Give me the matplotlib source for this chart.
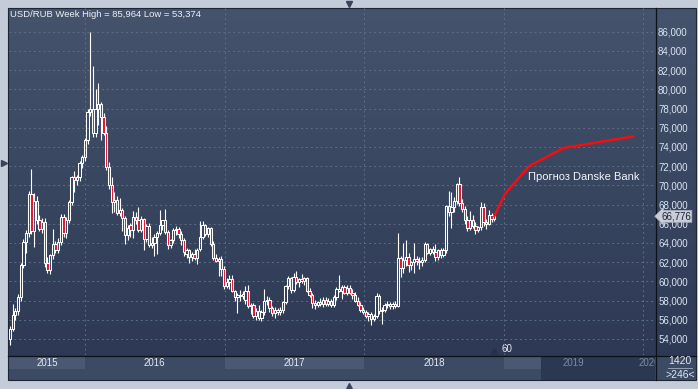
import matplotlib
matplotlib.use("Agg")

import matplotlib.pyplot as plt
import numpy as np
import pandas as pd
from matplotlib import transforms
from matplotlib.colors import LinearSegmentedColormap
from matplotlib.patches import Rectangle
from matplotlib.transforms import Bbox, TransformedBbox


plt.rcParams["font.family"] = ["Liberation Sans", "DejaVu Sans"]

# weekly USD/RUB candles, first week starts 2015-06-19
START_DATE = "2015-06-19"

OPENS = [
    54.0, 55.0, 56.5, 56.9, 58.4, 61.7, 64.1, 65.0, 69.1, 65.2,
    68.4, 66.4, 65.5, 66.2, 61.9, 61.2, 62.7, 63.9, 63.3, 64.1,
    66.7, 65.0, 66.4, 68.3, 70.9, 70.6, 70.9, 72.3, 73.0, 74.7,
    77.6, 78.0, 75.4, 77.9, 78.5, 77.1, 75.4, 71.9, 70.0, 68.3,
    68.5, 67.1, 67.4, 66.6, 64.8, 65.9, 65.4, 66.7, 66.4, 65.4,
    66.5, 64.4, 65.8, 63.8, 64.0, 64.6, 65.0, 65.9, 66.4, 65.1,
    63.8, 64.3, 65.3, 65.5, 64.9, 64.3, 62.8, 63.3, 62.5, 62.9,
    62.4, 63.4, 64.6, 65.9, 64.9, 65.6, 63.9, 62.4, 62.1, 62.3,
    61.3, 59.5, 59.9, 60.2, 59.0, 58.4, 58.6, 58.5, 58.1, 59.0,
    57.4, 57.5, 56.4, 56.9, 56.2, 56.8, 58.0, 58.1, 57.2, 56.7,
    57.0, 56.8, 57.0, 57.9, 59.5, 60.4, 59.1, 60.5, 59.9, 60.2,
    60.0, 60.3, 59.0, 58.6, 57.7, 57.5, 57.8, 57.6, 58.1, 57.6,
    58.0, 57.5, 58.4, 59.2, 59.0, 59.4, 58.8, 59.3, 58.8, 58.6,
    58.0, 57.5, 57.0, 56.8, 56.4, 56.6, 56.1, 56.4, 58.5, 56.9,
    57.0, 57.5, 57.6, 57.4, 57.6, 57.4, 62.4, 61.4, 62.2, 62.5,
    61.7, 62.0, 62.3, 62.1, 62.0, 62.2, 63.9, 63.0, 63.4, 63.1,
    62.5, 63.3, 62.7, 63.3, 67.8, 67.2, 67.7, 68.4, 70.1, 68.2,
    67.5, 66.4, 65.6, 66.4, 65.8, 65.4, 65.7, 67.7, 66.2, 66.0,
    66.9, 66.5,
]
HIGHS = [
    55.3, 57.6, 57.2, 58.7, 61.9, 64.4, 65.3, 69.4, 71.7, 69.2,
    68.9, 66.9, 66.6, 66.6, 62.5, 62.9, 65.5, 64.2, 64.5, 67.0,
    67.0, 66.7, 68.5, 71.0, 71.5, 71.1, 72.5, 73.2, 74.9, 77.9,
    85.964, 82.4, 80.0, 80.7, 78.7, 77.5, 76.2, 72.4, 70.9, 69.3,
    68.9, 68.7, 67.6, 66.8, 65.9, 66.1, 67.3, 67.2, 67.7, 66.8,
    66.6, 66.0, 66.1, 64.6, 64.9, 65.2, 67.4, 66.4, 67.5, 65.3,
    64.4, 65.6, 65.8, 65.7, 65.2, 64.5, 63.5, 63.4, 63.1, 63.4,
    63.5, 66.3, 66.3, 66.0, 65.7, 65.7, 64.2, 62.8, 62.5, 62.6,
    61.6, 60.4, 60.7, 60.7, 59.1, 58.8, 59.1, 59.0, 59.5, 59.6,
    57.7, 57.7, 57.2, 57.5, 57.0, 59.2, 58.5, 58.4, 57.4, 57.3,
    57.2, 57.3, 58.0, 59.6, 60.6, 60.5, 60.9, 61.1, 60.4, 60.8,
    60.5, 60.5, 59.3, 58.8, 58.1, 58.0, 58.3, 58.4, 58.4, 58.3,
    58.2, 58.6, 59.4, 60.7, 59.6, 59.6, 59.6, 59.6, 59.2, 58.9,
    58.4, 57.9, 57.3, 57.0, 56.8, 56.8, 56.6, 58.8, 58.7, 57.3,
    57.7, 58.0, 57.9, 57.8, 58.0, 65.0, 62.6, 64.0, 64.3, 63.0,
    62.1, 64.0, 62.6, 62.5, 62.5, 64.1, 64.0, 63.5, 63.7, 63.9,
    63.4, 63.5, 63.5, 68.0, 69.4, 69.3, 68.8, 70.2, 70.9, 68.6,
    67.8, 66.8, 67.3, 66.9, 66.2, 65.8, 68.3, 68.2, 66.5, 67.4,
    67.1, 66.9,
]
LOWS = [
    53.374, 54.8, 56.0, 56.5, 58.0, 61.4, 63.0, 64.6, 64.9, 63.6,
    66.0, 65.2, 65.0, 61.5, 60.9, 60.8, 62.3, 63.0, 63.0, 63.8,
    64.6, 64.5, 66.1, 68.0, 69.3, 70.0, 70.5, 71.8, 72.5, 74.3,
    77.2, 75.0, 75.0, 76.3, 74.7, 75.2, 71.6, 69.6, 67.1, 67.2,
    66.9, 66.8, 65.2, 63.9, 64.3, 64.6, 64.5, 66.0, 65.1, 65.1,
    63.3, 64.1, 63.6, 63.5, 62.6, 62.9, 64.8, 65.3, 64.9, 63.4,
    63.5, 64.0, 64.8, 64.5, 63.8, 62.6, 62.4, 61.9, 62.1, 62.2,
    61.8, 63.2, 64.4, 64.7, 64.6, 63.7, 62.2, 62.0, 60.6, 60.6,
    59.2, 59.3, 59.2, 58.9, 58.0, 56.7, 58.0, 58.2, 57.6, 57.2,
    56.6, 56.2, 56.0, 56.0, 55.9, 56.5, 57.5, 56.8, 56.4, 56.2,
    56.5, 56.5, 56.7, 57.6, 59.2, 58.8, 58.9, 59.7, 59.4, 59.8,
    59.6, 58.9, 58.4, 57.2, 57.1, 57.3, 57.4, 57.3, 57.4, 57.4,
    57.3, 57.3, 58.1, 58.9, 58.2, 58.7, 58.6, 58.7, 58.2, 57.8,
    57.4, 56.8, 56.6, 56.2, 55.9, 55.5, 55.9, 56.2, 56.6, 55.6,
    56.8, 57.2, 57.1, 57.1, 57.2, 57.3, 60.5, 60.9, 61.6, 61.0,
    61.2, 60.9, 61.7, 61.3, 61.6, 62.0, 62.8, 62.7, 62.8, 62.1,
    62.2, 62.4, 62.5, 63.0, 66.8, 65.6, 67.2, 68.1, 67.8, 67.2,
    66.0, 65.2, 65.3, 65.6, 64.9, 65.1, 65.4, 65.8, 65.5, 65.9,
    66.2, 66.3,
]
CLOSES = [
    55.0, 56.5, 56.9, 58.4, 61.7, 64.1, 65.0, 69.1, 65.2, 68.4,
    66.4, 65.5, 66.2, 61.9, 61.2, 62.7, 63.9, 63.3, 64.1, 66.7,
    65.0, 66.4, 68.3, 70.9, 70.6, 70.9, 72.3, 73.0, 74.7, 77.6,
    78.0, 75.4, 77.9, 78.5, 77.1, 75.4, 71.9, 70.0, 68.3, 68.5,
    67.1, 67.4, 66.6, 64.8, 65.6, 65.4, 66.7, 66.4, 65.4, 66.5,
    64.4, 65.8, 63.8, 64.0, 64.6, 65.0, 65.9, 66.4, 65.1, 63.8,
    64.3, 65.3, 65.5, 64.9, 64.3, 63.1, 63.3, 62.5, 62.9, 62.4,
    63.3, 64.6, 65.9, 64.9, 65.6, 63.9, 62.4, 62.1, 62.3, 61.3,
    59.5, 59.9, 60.2, 59.0, 58.4, 58.6, 58.5, 58.7, 59.0, 57.4,
    57.5, 56.4, 56.9, 56.2, 56.8, 58.0, 58.1, 57.2, 56.7, 57.0,
    56.8, 57.0, 57.9, 59.5, 60.4, 59.1, 60.5, 59.9, 60.2, 60.0,
    60.3, 59.0, 58.6, 57.7, 57.5, 57.8, 57.6, 58.1, 57.6, 58.0,
    57.5, 58.4, 59.2, 59.0, 59.4, 58.8, 59.3, 58.8, 58.6, 58.0,
    57.5, 57.0, 56.8, 56.4, 56.6, 56.1, 56.4, 58.5, 56.9, 57.0,
    57.5, 57.6, 57.4, 57.6, 57.4, 62.4, 61.4, 62.2, 62.5, 61.7,
    62.0, 62.3, 62.1, 62.0, 62.2, 63.9, 63.0, 63.4, 63.1, 62.5,
    63.3, 62.7, 63.3, 67.8, 67.2, 67.7, 68.4, 70.1, 68.2, 67.5,
    66.4, 65.6, 66.4, 65.8, 65.4, 65.7, 67.7, 66.2, 66.0, 66.9,
    66.5, 66.776,
]

# Danske Bank forecast: weeks after the last candle and level
FORECAST_WEEKS = [4, 13, 26, 52]
FORECAST_VALUES = [69.1, 72.0, 73.9, 75.1]
FORECAST_LABEL = "Прогноз Danske Bank"

YEARS = [2015, 2016, 2017, 2018, 2019, 2020]
PRICE_TICKS = list(range(54, 87, 2))

W, H = 698, 389


def ru(value: float) -> str:
    return f"{value:.3f}".replace(".", ",")


def main() -> None:
    opens = np.array(OPENS)
    highs = np.array(HIGHS)
    lows = np.array(LOWS)
    closes = np.array(CLOSES)
    idx = np.arange(len(closes))

    fig = plt.figure(figsize=(W / 100, H / 100), dpi=100, facecolor="#c3ccd8")

    # background layer in pixel units (window chrome)
    bg = fig.add_axes([0, 0, 1, 1])
    bg.set_xlim(0, W)
    bg.set_ylim(H, 0)
    bg.axis("off")
    panel_cmap = LinearSegmentedColormap.from_list("panel", ["#45536c", "#2c3853"])
    bg.imshow(np.linspace(0, 1, 256).reshape(-1, 1), extent=[8, 696, 380, 8],
              aspect="auto", cmap=panel_cmap, zorder=0)
    bg.add_patch(Rectangle((8, 355.5), 688, 24.5, fc="#3d4a63", ec="none", zorder=1))
    bg.add_patch(Rectangle((541, 355.5), 114, 24.5, fc="#2c3751", ec="none", zorder=3))
    bg.add_patch(Rectangle((8, 8), 688, 372, fill=False, ec="#1d2535", lw=0.8, zorder=4))
    bg.plot([655.5, 655.5], [8, 380], color="#0c111b", lw=0.9, zorder=4)
    bg.plot([8, 696], [355.5, 355.5], color="#0c111b", lw=0.9, zorder=4)
    bg.plot([349], [3.5], marker="v", ms=5, color="#39435a", zorder=4)
    bg.plot([3.5], [163], marker=">", ms=5, color="#39435a", zorder=4)
    bg.plot([349], [386], marker="^", ms=5, color="#39435a", zorder=4)
    bg.plot([494], [350.5], marker="^", ms=4, color="#26304a", zorder=4)
    bg.text(501, 349.5, "60", fontsize=7, color="#e8edf4", va="center", zorder=4)
    bg.text(680, 361.5, "1420", fontsize=7.5, color="#dfe6f0", ha="center", va="center", zorder=4)
    bg.plot([668, 692], [367.5, 367.5], color="#a0abbd", lw=0.6, zorder=4)
    bg.text(680, 374.5, ">246<", fontsize=7.5, color="#dfe6f0", ha="center", va="center", zorder=4)

    # price chart
    ax = fig.add_axes([9 / W, (H - 355) / H, 646 / W, 347 / H])
    ax.patch.set_visible(False)
    for spine in ax.spines.values():
        spine.set_visible(False)
    ax.set_xlim(-0.374, 241.1)
    ax.set_ylim(52.33, 88.47)

    start = pd.Timestamp(START_DATE)
    bounds = [(pd.Timestamp(f"{y}-01-01") - start).days / 7 for y in YEARS[1:]]
    edges = [ax.get_xlim()[0]] + bounds + [ax.get_xlim()[1]]
    mids = [(a + b) / 2 for a, b in zip(edges[:-1], edges[1:])]

    # alternating year boxes in the date bar
    bar_trans = transforms.blended_transform_factory(ax.transData, bg.transData)
    for k in range(0, len(YEARS), 2):
        bg.add_patch(Rectangle((edges[k], 356), edges[k + 1] - edges[k], 13,
                               transform=bar_trans, fc="#4a5871", ec="none", zorder=2))

    grid_style = dict(color="#5c6c88", lw=0.7, linestyle=(0, (2, 3)))
    ax.set_yticks(PRICE_TICKS, [ru(v) for v in PRICE_TICKS])
    ax.yaxis.tick_right()
    ax.tick_params(axis="y", length=0, pad=2.2, labelsize=7, labelcolor="#dbe4f2")
    ax.grid(axis="y", **grid_style)

    ax.set_xticks(bounds, [""] * len(bounds))
    ax.set_xticks(mids, [str(y) for y in YEARS], minor=True)
    ax.tick_params(axis="x", which="both", length=0, pad=1.8, labelsize=7)
    ax.grid(axis="x", which="major", **grid_style)
    clip = TransformedBbox(Bbox([[0, 0], [655, H]]), bg.transData)
    for year, tick in zip(YEARS, ax.xaxis.get_minor_ticks()):
        tick.label1.set_color("#e6ebf2" if year <= 2018 else "#7e8aa0")
        tick.label1.set_clip_box(clip)

    # candles
    up = closes >= opens
    body_lo = np.minimum(opens, closes)
    body_hi = np.maximum(opens, closes)
    ax.vlines(idx, body_hi, highs, color="white", lw=0.8, zorder=2)
    ax.vlines(idx, lows, body_lo, color="white", lw=0.8, zorder=2)
    ax.bar(idx, np.maximum(body_hi - body_lo, 0.06), bottom=body_lo, width=0.85,
           color=np.where(up, "none", "#e8102c"), edgecolor="white", linewidth=0.75, zorder=3)

    # forecast
    fx = idx[-1] + np.array([0] + FORECAST_WEEKS)
    fy = [closes[-1]] + FORECAST_VALUES
    ax.plot(fx, fy, color="#ff0a0a", lw=1.7, solid_capstyle="round", zorder=4)
    ax.text(idx[-1] + 12.6, 70.85, FORECAST_LABEL, fontsize=8, color="#f2f4f8",
            va="center", ha="left", zorder=5)

    ax.text(0.0015, 0.981,
            f"USD/RUB Week High = {ru(highs.max())} Low = {ru(lows.min())}",
            transform=ax.transAxes, fontsize=6.8, color="#eef1f6", va="center", ha="left")

    ax.text(1 + 6 / 646, closes[-1], ru(closes[-1]), transform=ax.get_yaxis_transform(),
            fontsize=7, color="#18233a", va="center", ha="left", clip_on=False, zorder=6,
            bbox=dict(boxstyle="larrow,pad=0.1", fc="#c9ced6", ec="#a9b1bf", lw=0.5))

    fig.savefig("out.png", dpi=100, facecolor=fig.get_facecolor())
    plt.close(fig)


if __name__ == "__main__":
    main()
